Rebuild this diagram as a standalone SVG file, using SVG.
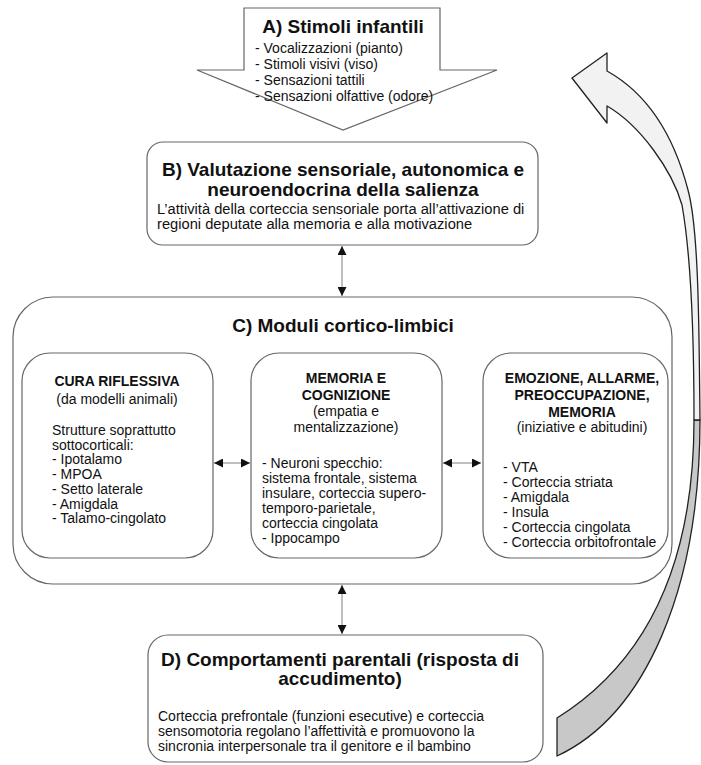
<svg xmlns="http://www.w3.org/2000/svg" width="701" height="765" viewBox="0 0 701 765">
<defs>
<marker id="ah" markerUnits="userSpaceOnUse" markerWidth="10" markerHeight="9" refX="9" refY="4.5" orient="auto-start-reverse">
<path d="M0,0 L9,4.5 L0,9 z" fill="#111"/>
</marker>
<style>
text{font-family:"Liberation Sans",Arial,sans-serif;fill:#111;}
.t{font-weight:bold;font-size:19px;text-anchor:middle;}
.h{font-weight:bold;font-size:14px;text-anchor:middle;}
.c{font-size:14px;text-anchor:middle;}
.b{font-size:14px;}
.bb{font-size:14.7px;}
.box{fill:#fff;stroke:#666;stroke-width:1.2;}
.con{stroke:#aaa;stroke-width:1.5;fill:none;marker-start:url(#ah);marker-end:url(#ah);}
</style>
</defs>
<rect width="701" height="765" fill="#fff"/>

<g id="cycle-arrow" stroke="#222" stroke-width="1.3" stroke-linejoin="round">
<path d="M694,420 C694,560 650,660 557,718 L557,756 C645,715 700,590 700,420 Z" fill="#c8c8c8"/>
<path d="M700,420 C699,330 699,230 688,190 C675,140 650,95 607,71 L607,53 L572,78 L607,123 L607,106 C640,125 672,170 682,205 C690,250 694,330 694,420 Z" fill="#f2f2f2"/>
</g>

<g id="nodeA">
<polygon class="box" points="244,8 440,8 440,70 497,70 343,130 197,70 244,70"/>
<text class="t" x="343" y="33">A) Stimoli infantili</text>
<text class="b" x="255" y="53">- Vocalizzazioni (pianto)</text>
<text class="b" x="255" y="69">- Stimoli visivi (viso)</text>
<text class="b" x="255" y="85">- Sensazioni tattili</text>
<text class="b" x="255" y="101">- Sensazioni olfattive (odore)</text>
</g>

<g id="nodeB">
<rect class="box" x="147" y="142" width="391" height="103" rx="16"/>
<text class="t" x="343" y="176">B) Valutazione sensoriale, autonomica e</text>
<text class="t" x="343" y="196">neuroendocrina della salienza</text>
<text class="bb" x="157" y="214">L’attività della corteccia sensoriale porta all’attivazione di</text>
<text class="bb" x="157" y="229">regioni deputate alla memoria e alla motivazione</text>
</g>

<g id="nodeC">
<rect class="box" x="13" y="297" width="659" height="287" rx="40"/>
<text class="t" x="343" y="332">C) Moduli cortico-limbici</text>
</g>

<g id="nodeC1">
<rect class="box" x="22" y="353" width="191" height="205" rx="28"/>
<text class="h" x="117" y="386">CURA RIFLESSIVA</text>
<text class="c" x="117" y="404">(da modelli animali)</text>
<text class="b" x="52" y="435">Strutture soprattutto</text>
<text class="b" x="52" y="449.7">sottocorticali:</text>
<text class="b" x="52" y="464.4">- Ipotalamo</text>
<text class="b" x="52" y="479.1">- MPOA</text>
<text class="b" x="52" y="493.8">- Setto laterale</text>
<text class="b" x="52" y="508.5">- Amigdala</text>
<text class="b" x="52" y="523.2">- Talamo-cingolato</text>
</g>

<g id="nodeC2">
<rect class="box" x="251" y="353" width="191" height="205" rx="28"/>
<text class="h" x="346" y="383">MEMORIA E</text>
<text class="h" x="346" y="399.5">COGNIZIONE</text>
<text class="c" x="346" y="416">(empatia e</text>
<text class="c" x="346" y="432">mentalizzazione)</text>
<text class="b" x="262" y="468">- Neuroni specchio:</text>
<text class="b" x="262" y="483">sistema frontale, sistema</text>
<text class="b" x="262" y="498">insulare, corteccia supero-</text>
<text class="b" x="262" y="513">temporo-parietale,</text>
<text class="b" x="262" y="528">corteccia cingolata</text>
<text class="b" x="262" y="543">- Ippocampo</text>
</g>

<g id="nodeC3">
<rect class="box" x="483" y="353" width="185" height="205" rx="28"/>
<text class="h" x="582" y="383">EMOZIONE, ALLARME,</text>
<text class="h" x="582" y="400">PREOCCUPAZIONE,</text>
<text class="h" x="582" y="417">MEMORIA</text>
<text class="c" x="582" y="432">(iniziative e abitudini)</text>
<text class="b" x="503" y="471.5">- VTA</text>
<text class="b" x="503" y="486.5">- Corteccia striata</text>
<text class="b" x="503" y="501.5">- Amigdala</text>
<text class="b" x="503" y="516.5">- Insula</text>
<text class="b" x="503" y="531.5">- Corteccia cingolata</text>
<text class="b" x="503" y="546.5">- Corteccia orbitofrontale</text>
</g>

<g id="nodeD">
<rect class="box" x="148" y="635" width="395" height="127" rx="20"/>
<text class="t" x="340" y="666">D) Comportamenti parentali (risposta di</text>
<text class="t" x="340" y="685">accudimento)</text>
<text class="b" x="158" y="721">Corteccia prefrontale (funzioni esecutive) e corteccia</text>
<text class="b" x="158" y="736">sensomotoria regolano l’affettività e promuovono la</text>
<text class="b" x="158" y="751">sincronia interpersonale tra il genitore e il bambino</text>
</g>

<g id="connectors">
<line class="con" x1="342" y1="246" x2="342" y2="296"/>
<line class="con" x1="214" y1="463" x2="250" y2="463"/>
<line class="con" x1="443" y1="463" x2="481" y2="463"/>
<line class="con" x1="342" y1="585" x2="342" y2="634"/>
</g>
</svg>
